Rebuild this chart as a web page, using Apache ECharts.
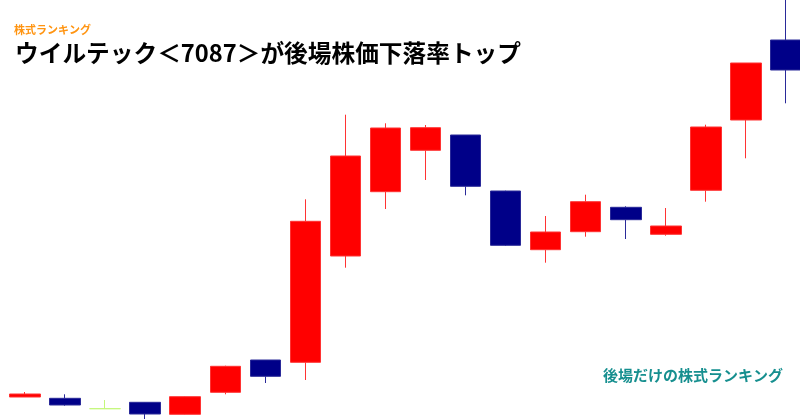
<!DOCTYPE html>
<html>
<head>
<meta charset="utf-8">
<script src="https://cdn.jsdelivr.net/npm/echarts@6/dist/echarts.min.js"></script>
<style>
html,body{margin:0;padding:0;background:#fff;}
#c{width:800px;height:420px;}
</style>
</head>
<body>
<div id="c"></div>
<script>
// Data (arbitrary price units)
const categories = ['1','2','3','4','5','6','7','8','9','10','11','12','13','14','15','16','17','18','19','20'];
const openValues  = [23, 21.7, 11.3, 17.7, 5.7, 27.7, 60, 57.7, 164, 228.3, 269.7, 285, 229, 170.3, 188.3, 212.7, 185.7, 229.7, 300, 380];
const closeValues = [26, 15, 11.3, 6, 23.3, 53.7, 43.7, 198.7, 264, 292, 292.3, 233.7, 174.7, 188, 218.3, 200.3, 194, 293, 357, 350];
const lowValues   = [23, 14.3, 11.3, 1, 5.5, 25.7, 37, 40, 152.3, 211, 240, 224.7, 174, 157.3, 183.3, 181, 184.3, 218.3, 261.7, 316.7];
const highValues  = [28, 25.7, 20, 18, 23.5, 54.3, 60, 220.7, 305.3, 296.7, 295, 285, 229.3, 204, 225.3, 213.7, 212, 295.3, 357, 430];

const headerLabel = '株式ランキング';
const titleText = 'ウイルテック＜7087＞が後場株価下落率トップ';
const footerText = '後場だけの株式ランキング';

const candleData = categories.map((c, i) => [openValues[i], closeValues[i], lowValues[i], highValues[i]]);

const chart = echarts.init(document.getElementById('c'));
chart.setOption({
  backgroundColor: '#ffffff',
  animation: false,
  title: [
    { text: headerLabel, left: 9, top: 19, textStyle: { fontSize: 11, fontWeight: 'bold', color: '#ff9411', fontFamily: 'Noto Sans CJK JP' } },
    { text: titleText, left: 10, top: 36, textStyle: { fontSize: 23.7, fontWeight: 'bold', color: '#000000', fontFamily: 'Noto Sans CJK JP' } },
    { text: footerText, right: 12, top: 363, textStyle: { fontSize: 15, fontWeight: 'bold', color: '#168f8f', fontFamily: 'Noto Sans CJK JP' } }
  ],
  grid: { left: 5, width: 801, top: 0, bottom: 0, outerBoundsMode: 'none', containLabel: false },
  xAxis: { type: 'category', data: categories, show: false, boundaryGap: true },
  yAxis: { type: 'value', min: 0, max: 420, show: false, splitLine: { show: false } },
  series: [{
    type: 'candlestick',
    data: candleData,
    barWidth: 31,
    clip: true,
    itemStyle: {
      color: '#ff0000',
      color0: '#000088',
      borderColor: '#ff3333',
      borderColor0: '#2a2a99',
      borderColorDoji: '#c4f77a',
      borderWidth: 1
    }
  }]
});
</script>
</body>
</html>
